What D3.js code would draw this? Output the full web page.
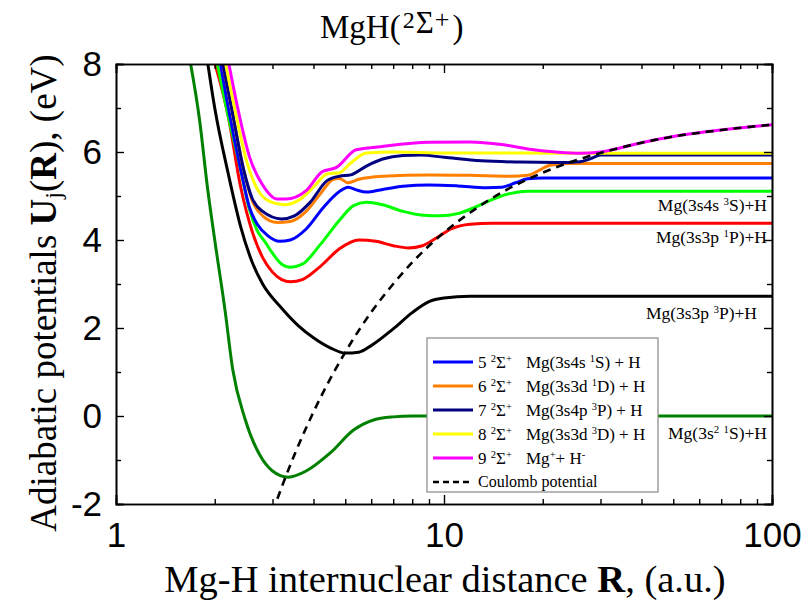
<!DOCTYPE html>
<html>
<head>
<meta charset="utf-8">
<script src="https://cdn.jsdelivr.net/npm/d3@7"></script>
<style>
  body { margin: 0; background: #fff; }
  svg { display: block; }
  .serif { font-family: "Liberation Serif", "Times New Roman", serif; }
  .tick text { font-family: "Liberation Sans", Arial, sans-serif; }
</style>
</head>
<body>
<div id="chart"></div>
<script>
// potential curves, [R (a.u.), U (eV)]
const groundX = [[1.66, 8.3], [1.8, 6.7], [1.9, 5.2], [2.0, 4.0], [2.15, 2.4], [2.27, 1.05], [2.47, -0.05], [2.75, -0.9], [3.0, -1.25], [3.35, -1.39], [3.8, -1.25], [4.5, -0.84], [5.3, -0.32], [6.1, -0.09], [7, -0.02], [8, 0], [100, 0]];
const state2 = [[1.88, 8.3], [2.0, 7.0], [2.2, 5.5], [2.4, 4.3], [2.6, 3.5], [2.8, 3.0], [3.2, 2.45], [3.6, 2.05], [4.0, 1.78], [4.5, 1.55], [5.0, 1.43], [5.5, 1.45], [6.0, 1.6], [7.0, 1.98], [8.0, 2.35], [9.0, 2.6], [10, 2.68], [12, 2.72], [100, 2.72]];
const state3 = [[1.95, 8.3], [2.2, 6.8], [2.4, 5.2], [2.6, 4.2], [2.8, 3.6], [3.0, 3.27], [3.2, 3.1], [3.4, 3.05], [3.7, 3.1], [4.2, 3.4], [4.8, 3.8], [5.5, 4.0], [6.2, 3.97], [7.0, 3.87], [7.8, 3.82], [8.6, 3.87], [9.5, 4.05], [10.5, 4.25], [12, 4.36], [14, 4.38], [100, 4.38]];
const state4 = [[2.0, 8.3], [2.2, 6.8], [2.4, 5.6], [2.55, 4.7], [2.7, 4.2], [2.85, 3.95], [3.0, 3.7], [3.2, 3.45], [3.4, 3.38], [3.7, 3.45], [4.2, 3.9], [4.8, 4.45], [5.3, 4.78], [5.8, 4.86], [6.5, 4.8], [7.5, 4.65], [8.5, 4.57], [9.8, 4.55], [11, 4.6], [12.5, 4.75], [14, 4.92], [16, 5.06], [18, 5.11], [100, 5.11]];
const state5 = [[2.05, 8.3], [2.2, 7.0], [2.4, 5.6], [2.55, 4.75], [2.7, 4.35], [2.9, 4.1], [3.15, 3.97], [3.4, 4.0], [3.8, 4.25], [4.3, 4.75], [4.8, 5.1], [5.1, 5.2], [5.4, 5.14], [5.8, 5.09], [6.5, 5.15], [7.5, 5.22], [9, 5.25], [11, 5.23], [13.5, 5.19], [15, 5.2], [16.5, 5.3], [18, 5.39], [20, 5.41], [100, 5.41]];
const state6 = [[2.08, 8.3], [2.25, 7.0], [2.45, 5.6], [2.6, 4.9], [2.8, 4.55], [3.1, 4.4], [3.4, 4.42], [3.8, 4.65], [4.2, 5.05], [4.6, 5.38], [4.8, 5.4], [5.1, 5.3], [5.5, 5.38], [6.5, 5.45], [9, 5.48], [12, 5.47], [16, 5.45], [18, 5.47], [19.5, 5.58], [21, 5.7], [24, 5.74], [100, 5.74]];
const state7 = [[2.08, 8.3], [2.25, 7.0], [2.45, 5.6], [2.6, 4.95], [2.8, 4.65], [3.2, 4.48], [3.5, 4.55], [3.9, 4.85], [4.4, 5.35], [4.8, 5.45], [5.2, 5.48], [5.8, 5.68], [6.5, 5.84], [7.5, 5.92], [8.5, 5.93], [10, 5.88], [13, 5.8], [17, 5.77], [22, 5.76], [26, 5.78], [28, 5.85], [30, 5.93], [100, 5.93]];
const state8 = [[2.12, 8.3], [2.3, 7.0], [2.5, 5.8], [2.7, 5.15], [2.95, 4.87], [3.25, 4.8], [3.6, 4.9], [4.0, 5.2], [4.4, 5.5], [4.8, 5.53], [5.2, 5.75], [5.8, 5.98], [7, 6.0], [10, 5.98], [100, 5.97]];
const state9 = [[2.17, 8.3], [2.35, 7.0], [2.55, 5.9], [2.8, 5.25], [3.1, 4.93], [3.3, 4.93], [3.8, 5.12], [4.25, 5.55], [4.7, 5.65], [5.4, 6.05], [6.4, 6.12], [9, 6.22], [12, 6.23], [15, 6.17], [18, 6.07], [22, 6.0], [26, 5.97], [30, 6.0], [40, 6.21], [50, 6.35], [70, 6.5], [100, 6.62]];
const coulomb = [[3.0, -2.18], [3.5, -0.88], [4, 0.09], [5, 1.45], [6, 2.36], [7, 3.0], [8, 3.49], [10, 4.17], [12, 4.62], [15, 5.08], [20, 5.53], [25, 5.8], [30, 5.98], [40, 6.21], [50, 6.35], [70, 6.5], [100, 6.62]];

const curveNames = ["groundX", "state2", "state3", "state4", "state5", "state6", "state7", "state8", "state9"];
const curveColors = ["#008000", "#000000", "#ff0000", "#00ff00", "#0000ff", "#ff8000", "#000080", "#ffff00", "#ff00ff"];
const curveData = [groundX, state2, state3, state4, state5, state6, state7, state8, state9];

const xMajor = [1, 10, 100];
const xMinor = [2, 3, 4, 5, 6, 7, 8, 9, 20, 30, 40, 50, 60, 70, 80, 90];
const yMajor = [-2, 0, 2, 4, 6, 8];
const yMinor = [-1, 1, 3, 5, 7];

// asymptote labels on the right: text pieces [text, sup] and the U level they sit at
const asymLabels = [
  [["Mg(3s4s ", 0], ["3", 1], ["S)+H", 0]],
  [["Mg(3s3p ", 0], ["1", 1], ["P)+H", 0]],
  [["Mg(3s3p ", 0], ["3", 1], ["P)+H", 0]],
  [["Mg(3s", 0], ["2", 1], [" ", 0], ["1", 1], ["S)+H", 0]]
];
const asymLevels = [4.8, 4.07, 2.34, -0.39];

// legend rows: state number, asymptote pieces, colour
const legendNums = ["5", "6", "7", "8", "9"];
const legendAsym = [
  [["Mg(3s4s ", 0], ["1", 1], ["S) + H", 0]],
  [["Mg(3s3d ", 0], ["1", 1], ["D) + H", 0]],
  [["Mg(3s4p ", 0], ["3", 1], ["P) + H", 0]],
  [["Mg(3s3d ", 0], ["3", 1], ["D) + H", 0]],
  [["Mg", 0], ["+", 1], ["+ H", 0], ["-", 1]]
];
const legendColors = ["#0000ff", "#ff8000", "#000080", "#ffff00", "#ff00ff"];

const W = 804, H = 607;
const margin = { top: 64, right: 32, bottom: 103, left: 116 };

const svg = d3.select("#chart").append("svg")
  .attr("width", W).attr("height", H);

const x = d3.scaleLog().domain([1, 100]).range([margin.left, W - margin.right]);
const y = d3.scaleLinear().domain([-2, 8]).range([H - margin.bottom, margin.top]);

svg.append("clipPath").attr("id", "plotClip")
  .append("rect")
  .attr("x", margin.left).attr("y", margin.top)
  .attr("width", x(100) - x(1)).attr("height", y(-2) - y(8));

const line = d3.line()
  .x(d => x(d[0]))
  .y(d => y(d[1]))
  .curve(d3.curveMonotoneX);

const plot = svg.append("g").attr("clip-path", "url(#plotClip)");

curveData.forEach((arr, i) => {
  plot.append("path")
    .attr("class", curveNames[i])
    .attr("d", line(arr))
    .attr("fill", "none")
    .attr("stroke", curveColors[i])
    .attr("stroke-width", 3);
});

plot.append("path")
  .attr("d", line(coulomb))
  .attr("fill", "none")
  .attr("stroke", "#000")
  .attr("stroke-width", 2.6)
  .attr("stroke-dasharray", "8,6");

// axes with inward ticks, mirrored on top/right
function styleAxis(g) {
  g.select(".domain").attr("stroke", "#000").attr("stroke-width", 1.6);
  g.selectAll(".tick line").attr("stroke", "#000").attr("stroke-width", 1.4);
}
const bottom = svg.append("g").attr("transform", `translate(0,${y(-2)})`)
  .call(d3.axisBottom(x).tickValues(xMajor).tickSize(-9).tickPadding(18).tickFormat(d => String(d)));
bottom.selectAll(".tick text").attr("font-size", 35).attr("fill", "#000");
styleAxis(bottom);
svg.append("g").attr("transform", `translate(0,${y(-2)})`)
  .call(d3.axisBottom(x).tickValues(xMinor).tickSize(-5).tickFormat(""))
  .call(styleAxis);
svg.append("g").attr("transform", `translate(0,${y(8)})`)
  .call(d3.axisTop(x).tickValues(xMajor).tickSize(-9).tickFormat(""))
  .call(styleAxis);
svg.append("g").attr("transform", `translate(0,${y(8)})`)
  .call(d3.axisTop(x).tickValues(xMinor).tickSize(-5).tickFormat(""))
  .call(styleAxis);

const left = svg.append("g").attr("transform", `translate(${x(1)},0)`)
  .call(d3.axisLeft(y).tickValues(yMajor).tickSize(-8).tickPadding(14).tickFormat(d => String(d)));
left.selectAll(".tick text").attr("font-size", 35).attr("fill", "#000");
styleAxis(left);
svg.append("g").attr("transform", `translate(${x(1)},0)`)
  .call(d3.axisLeft(y).tickValues(yMinor).tickSize(-5).tickFormat(""))
  .call(styleAxis);
svg.append("g").attr("transform", `translate(${x(100)},0)`)
  .call(d3.axisRight(y).tickValues(yMajor).tickSize(-8).tickFormat(""))
  .call(styleAxis);
svg.append("g").attr("transform", `translate(${x(100)},0)`)
  .call(d3.axisRight(y).tickValues(yMinor).tickSize(-5).tickFormat(""))
  .call(styleAxis);

// rich text helper: pieces [text, sup]
function rich(sel, pieces, size) {
  pieces.forEach(([t, sup]) => {
    const ts = sel.append("tspan").text(t);
    if (sup === 1) ts.attr("font-size", size * 0.62).attr("baseline-shift", "55%");
  });
  return sel;
}

// asymptote labels
asymLabels.forEach((pieces, i) => {
  const t = svg.append("text").attr("class", "serif")
    .attr("x", x(100) - (i === 2 ? 15 : 5)).attr("y", y(asymLevels[i]) + 6)
    .attr("text-anchor", "end").attr("font-size", 17.5);
  rich(t, pieces, 17.5);
});

// title
const title = svg.append("text").attr("class", "serif")
  .attr("x", 320).attr("y", 38).attr("font-size", 33);
title.append("tspan").text("MgH(");
title.append("tspan").text("2").attr("font-size", 24).attr("dx", 2).attr("dy", -10);
title.append("tspan").text("Σ").attr("font-size", 31).attr("dx", 1).attr("dy", 5);
title.append("tspan").text("+").attr("font-size", 26).attr("dx", 1).attr("dy", -5);
title.append("tspan").text(")").attr("dx", 3).attr("dy", 10);

// axis titles
const xl = svg.append("text").attr("class", "serif")
  .attr("x", 445).attr("y", 592).attr("text-anchor", "middle").attr("font-size", 38.5);
xl.append("tspan").text("Mg-H internuclear distance ");
xl.append("tspan").text("R").attr("font-weight", "bold");
xl.append("tspan").text(", (a.u.)");

const yl = svg.append("text").attr("class", "serif")
  .attr("transform", "translate(56,293) rotate(-90)")
  .attr("text-anchor", "middle").attr("font-size", 37);
yl.append("tspan").text("Adiabatic potentials ");
yl.append("tspan").text("U").attr("font-weight", "bold");
yl.append("tspan").text("j").attr("font-size", 24).attr("baseline-shift", "-20%");
yl.append("tspan").text("(");
yl.append("tspan").text("R").attr("font-weight", "bold");
yl.append("tspan").text("), (eV)");

// legend
const lg = svg.append("g").attr("transform", "translate(427,338)");
lg.append("rect").attr("width", 231).attr("height", 154)
  .attr("fill", "#fff").attr("stroke", "#888").attr("stroke-width", 1.2);
const rowH = 24;
legendNums.forEach((n, i) => {
  const ry = 24 + i * rowH;
  lg.append("line").attr("x1", 6).attr("x2", 46).attr("y1", ry).attr("y2", ry)
    .attr("stroke", legendColors[i]).attr("stroke-width", 3);
  const t = lg.append("text").attr("class", "serif")
    .attr("x", 51).attr("y", ry + 6).attr("font-size", 17);
  rich(t, [[n + " ", 0], ["2", 1], ["Σ", 0], ["+", 1]], 17);
  const t2 = lg.append("text").attr("class", "serif")
    .attr("x", 99).attr("y", ry + 6).attr("font-size", 17);
  rich(t2, legendAsym[i], 17);
});
lg.append("line").attr("x1", 6).attr("x2", 46).attr("y1", 24 + 5 * rowH).attr("y2", 24 + 5 * rowH)
  .attr("stroke", "#000").attr("stroke-width", 2.5).attr("stroke-dasharray", "6,4");
lg.append("text").attr("class", "serif")
  .attr("x", 51).attr("y", 24 + 5 * rowH + 5).attr("font-size", 16)
  .text("Coulomb potential");
</script>
</body>
</html>
